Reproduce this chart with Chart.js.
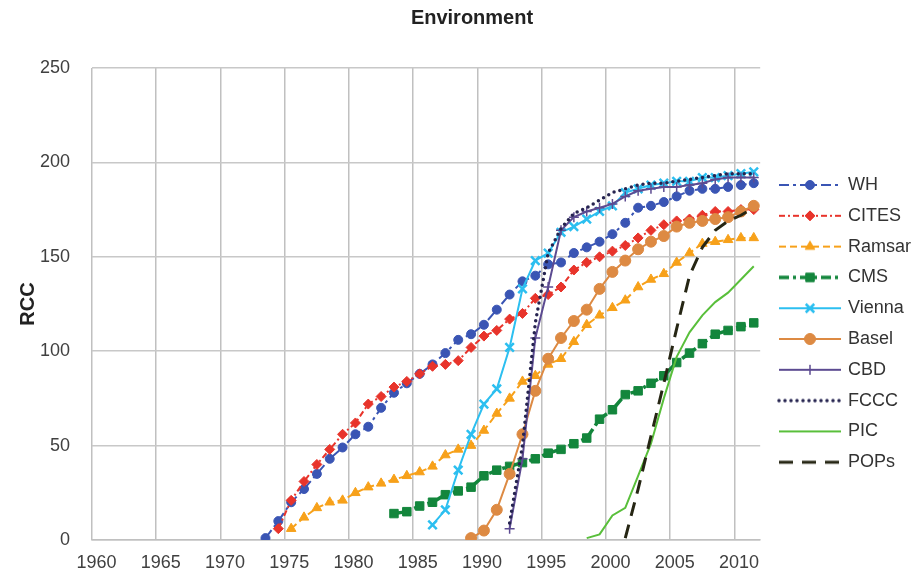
<!DOCTYPE html>
<html>
<head>
<meta charset="utf-8">
<script src="https://cdn.jsdelivr.net/npm/chart.js@4.4.1/dist/chart.umd.min.js"></script>
<style>
  html, body { margin: 0; padding: 0; background: #fff; }
  #wrap { position: relative; width: 917px; height: 574px; }
  #title { position: absolute; top: 6px; left: 0; width: 944px; text-align: center;
           font: bold 20px "Liberation Sans", Arial, sans-serif; color: #222; }
</style>
</head>
<body>
<div id="wrap">
  <div id="title">Environment</div>
  <canvas id="chart" width="917" height="574"></canvas>
</div>
<script>
// years on the category axis
var years = [];
for (var yr = 1960; yr <= 2011; yr++) years.push(String(yr));

// series values, each starting at its first year
var whStart = 1973;
var whValues = [1, 10, 20, 27, 35, 43, 49, 56, 60, 70, 78, 83, 88, 93, 99, 106, 109, 114, 122, 130,
  137, 140, 146, 147, 152, 155, 158, 162, 168, 176, 177, 179, 182, 185, 186, 186, 187, 188, 189];
var citesStart = 1974;
var citesValues = [6, 21, 31, 40, 48, 56, 62, 72, 76, 81, 84, 88, 92, 93, 95, 102, 108, 111, 117,
  120, 128, 130, 134, 143, 147, 150, 153, 156, 160, 164, 167, 169, 170, 172, 174, 174, 175, 175];
var ramsarStart = 1975;
var ramsarValues = [6, 12, 17, 20, 21, 25, 28, 30, 32, 34, 36, 39, 45, 48, 50, 58, 67, 75,
  84, 87, 93, 96, 105, 114, 119, 123, 127, 134, 138, 141, 147, 152, 157, 158, 159, 160, 160];
var cmsStart = 1983;
var cmsValues = [14, 15, 18, 20, 24, 26, 28, 34, 37, 39, 41, 43, 46, 48, 51, 54, 64, 69, 77, 79,
  83, 87, 94, 99, 104, 109, 111, 113, 115];
var viennaStart = 1986;
var viennaValues = [8, 16, 37, 56, 72, 80, 102, 133, 148, 152, 163, 166, 170, 174, 177, 184, 186,
  188, 189, 190, 190, 192, 192, 193, 194, 195];
var baselStart = 1989;
var baselValues = [1, 5, 16, 35, 56, 79, 96, 107, 116, 122, 133, 142, 148, 154, 158, 161, 166, 168,
  169, 170, 171, 174, 177];
var cbdStart = 1992;
var cbdValues = [6, 43, 107, 134, 164, 171, 174, 176, 178, 182, 185, 186, 187, 187, 188, 189, 191,
  192, 192, 192];
var fcccStart = 1992;
var fcccValues = [9, 50, 115, 152, 165, 173, 176, 180, 184, 186, 188, 189, 189, 190, 191, 192, 193,
  194, 194, 194];
var picStart = 1998;
var picValues = [1, 3, 13, 17, 34, 51, 75, 97, 110, 119, 126, 131, 138, 145];
var popsStart = 2001;
var popsValues = [1, 27, 55, 83, 112, 140, 155, 164, 169, 172, 176];

function byYear(start, values) {
  return years.map(function (y) {
    var i = Number(y) - start;
    return i >= 0 && i < values.length ? values[i] : null;
  });
}

function series(label, start, values, color, extra) {
  var ds = {
    label: label,
    data: byYear(start, values),
    borderColor: color,
    backgroundColor: color,
    pointBackgroundColor: color,
    pointBorderColor: color,
    borderWidth: 2,
    pointRadius: 0,
    pointBorderWidth: 1,
    tension: 0
  };
  for (var k in extra) ds[k] = extra[k];
  return ds;
}

var datasets = [
  series('WH', whStart, whValues, '#3a55b4', { borderDash: [10, 4, 3, 4], pointStyle: 'circle', pointRadius: 4.5 }),
  series('CITES', citesStart, citesValues, '#e8342b', { borderDash: [6, 3, 2, 3], pointStyle: 'rectRot', pointRadius: 5 }),
  series('Ramsar', ramsarStart, ramsarValues, '#f7a11a', { borderDash: [7, 4], pointStyle: 'triangle', pointRadius: 5.5 }),
  series('CMS', cmsStart, cmsValues, '#13863c', { borderWidth: 3.5, borderDash: [10, 4, 3, 4], pointStyle: 'rect', pointRadius: 6 }),
  series('Vienna', viennaStart, viennaValues, '#2cbff0', { pointStyle: 'crossRot', pointRadius: 6, pointBorderWidth: 2.5 }),
  series('Basel', baselStart, baselValues, '#dd8a43', { pointStyle: 'circle', pointRadius: 5.5 }),
  series('CBD', cbdStart, cbdValues, '#5c4b91', { pointStyle: 'cross', pointRadius: 5, pointBorderWidth: 1.5 }),
  series('FCCC', fcccStart, fcccValues, '#262450', { borderWidth: 3.5, borderDash: [0, 6], borderCapStyle: 'round' }),
  series('PIC', picStart, picValues, '#59bf3b', {}),
  series('POPs', popsStart, popsValues, '#262614', { borderWidth: 3, borderDash: [14, 9] })
];
// later series are painted on top, as in the original
datasets.forEach(function (ds, i) { ds.order = -i; });

// little line + marker picture for each legend entry
function sample(ds) {
  var c = document.createElement('canvas');
  c.width = 72; c.height = 20;
  var g = c.getContext('2d');
  g.strokeStyle = ds.borderColor;
  g.lineWidth = ds.borderWidth;
  g.lineCap = ds.borderCapStyle || 'butt';
  g.setLineDash(ds.borderDash || []);
  g.beginPath(); g.moveTo(9, 10); g.lineTo(71, 10); g.stroke();
  g.setLineDash([]);
  if (ds.pointRadius > 0) {
    g.fillStyle = ds.pointBackgroundColor;
    g.strokeStyle = ds.pointBorderColor;
    g.lineWidth = ds.pointBorderWidth;
    Chart.helpers.drawPoint(g, { pointStyle: ds.pointStyle, radius: ds.pointRadius, rotation: 0, borderWidth: ds.pointBorderWidth }, 40, 10);
  }
  return c;
}

Chart.defaults.font.family = '"Liberation Sans", Arial, sans-serif';

new Chart(document.getElementById('chart'), {
  type: 'line',
  data: { labels: years, datasets: datasets },
  options: {
    responsive: false,
    animation: false,
    layout: { padding: { top: 68, right: -4, bottom: 0, left: 0 } },
    plugins: {
      tooltip: { enabled: false },
      legend: {
        position: 'right',
        fullSize: false,
        title: { display: true, text: ' ', padding: 12.4 },
        labels: {
          usePointStyle: true,
          pointStyleWidth: 66,
          padding: 12.8,
          color: '#333',
          font: { size: 18 },
          generateLabels: function (chart) {
            return chart.data.datasets.map(function (ds, i) {
              return {
                text: ds.label, datasetIndex: i, hidden: false,
                pointStyle: sample(ds), fontColor: '#333',
                fillStyle: 'rgba(0,0,0,0)', strokeStyle: 'rgba(0,0,0,0)', lineWidth: 0
              };
            });
          }
        }
      }
    },
    scales: {
      x: {
        type: 'category',
        offset: true,
        afterFit: function (scale) { scale.height = 34; },
        grid: {
          offset: true,
          drawTicks: false,
          lineWidth: 1.5,
          color: function (c) { return c.index % 5 === 0 ? '#c0c0c0' : 'rgba(0,0,0,0)'; }
        },
        border: { color: '#c0c0c0', width: 1.5 },
        ticks: {
          autoSkip: false,
          maxRotation: 0,
          labelOffset: -2,
          padding: 12,
          color: '#404040',
          font: { size: 18 },
          callback: function (value, index) { return index % 5 === 0 ? this.getLabelForValue(value) : ''; }
        }
      },
      y: {
        min: 0,
        max: 250,
        afterFit: function (scale) { scale.width = 92; },
        grid: { drawTicks: false, lineWidth: 1.5, color: '#c8c8c8' },
        border: { display: false },
        ticks: { stepSize: 50, padding: 22, color: '#404040', font: { size: 18 } },
        title: {
          display: true, text: 'RCC', color: '#222',
          font: { size: 20, weight: 'bold' },
          padding: { top: 16, bottom: 0 }
        }
      }
    }
  }
});
</script>
</body>
</html>
